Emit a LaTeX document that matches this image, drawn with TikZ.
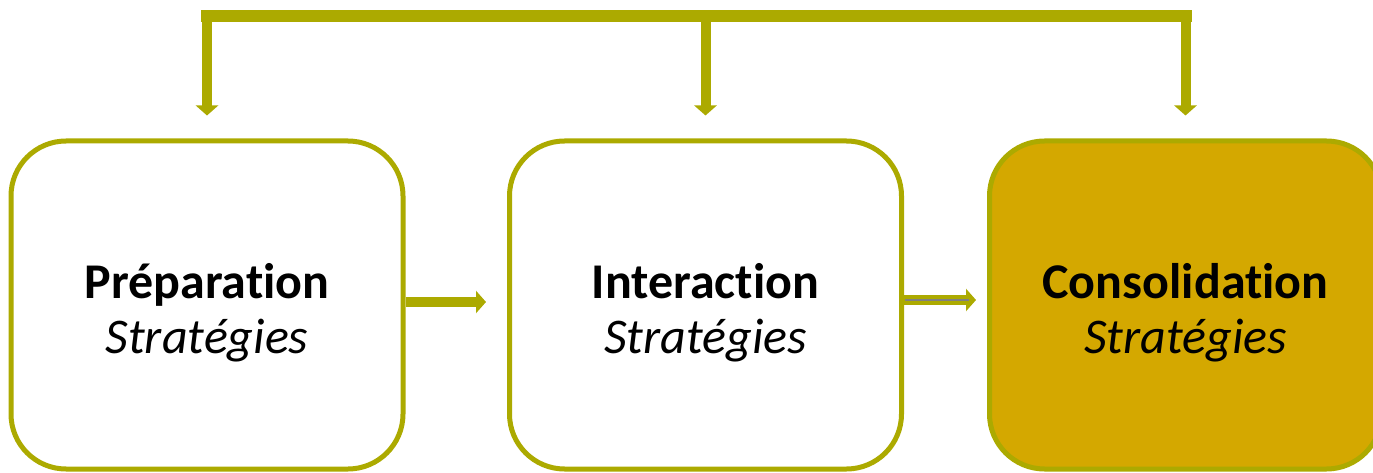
\documentclass[tikz,border=0pt]{standalone}
\usepackage{fontspec}
\setmainfont[Ligatures={NoCommon}]{Carlito}
\usetikzlibrary{arrows.meta}
\definecolor{olive}{RGB}{172,170,0}
\definecolor{gold}{RGB}{212,168,0}
\begin{document}
\begin{tikzpicture}[x=1pt,y=-1pt,
  stage/.style={draw=olive,line width=5pt,rounded corners=55pt,minimum width=392pt,minimum height=328pt,inner sep=0pt},
  conn/.style={draw=olive,line width=10pt,-{Triangle[width=22pt,length=10pt]}},
  bar/.style={draw=olive,line width=12pt,line cap=rect},
  lbl/.style={align=center,font=\fontsize{50}{55}\selectfont}]
\useasboundingbox (0,0) rectangle (1373,473);
\node[stage,fill=white] (b1) at (207,305) {};
\node[stage,fill=white] (b2) at (705.5,305) {};
\node[stage,fill=gold] (b3) at (1185.5,305) {};
\node[lbl] (t1) at (207,313) {\textbf{Préparation}\\\textit{Stratégies}};
\node[lbl] (t2) at (705.5,313) {\textbf{Interaction}\\\textit{Stratégies}};
\node[lbl] (t3) at (1185.5,313) {\textbf{Consolidation}\\\textit{Stratégies}};
\coordinate (c1) at (207,16);
\coordinate (c2) at (705.5,16);
\coordinate (c3) at (1185.5,16);
\draw[bar] (c1) -- (c3);
\draw[conn,shorten >=23pt] (c1) -- (b1.north);
\draw[conn,shorten >=23pt] (c2) -- (b2.north);
\draw[conn,shorten >=23pt] (c3) -- (b3.north);
\coordinate (a1) at (b1.east |- 0,302);
\coordinate (a2) at (b2.west |- 0,302);
\draw[conn,shorten >=21pt] (a1) -- (a2);
\coordinate (a3) at (b2.east |- 0,300);
\coordinate (a4) at (b3.west |- 0,300);
\draw[conn,shorten >=11pt] (a3) -- (a4);
\coordinate (g1) at (905,300);
\coordinate (g2) at (969,300);
\draw[draw=gray,line width=1.5pt] (g1) -- (g2);
\end{tikzpicture}
\end{document}
